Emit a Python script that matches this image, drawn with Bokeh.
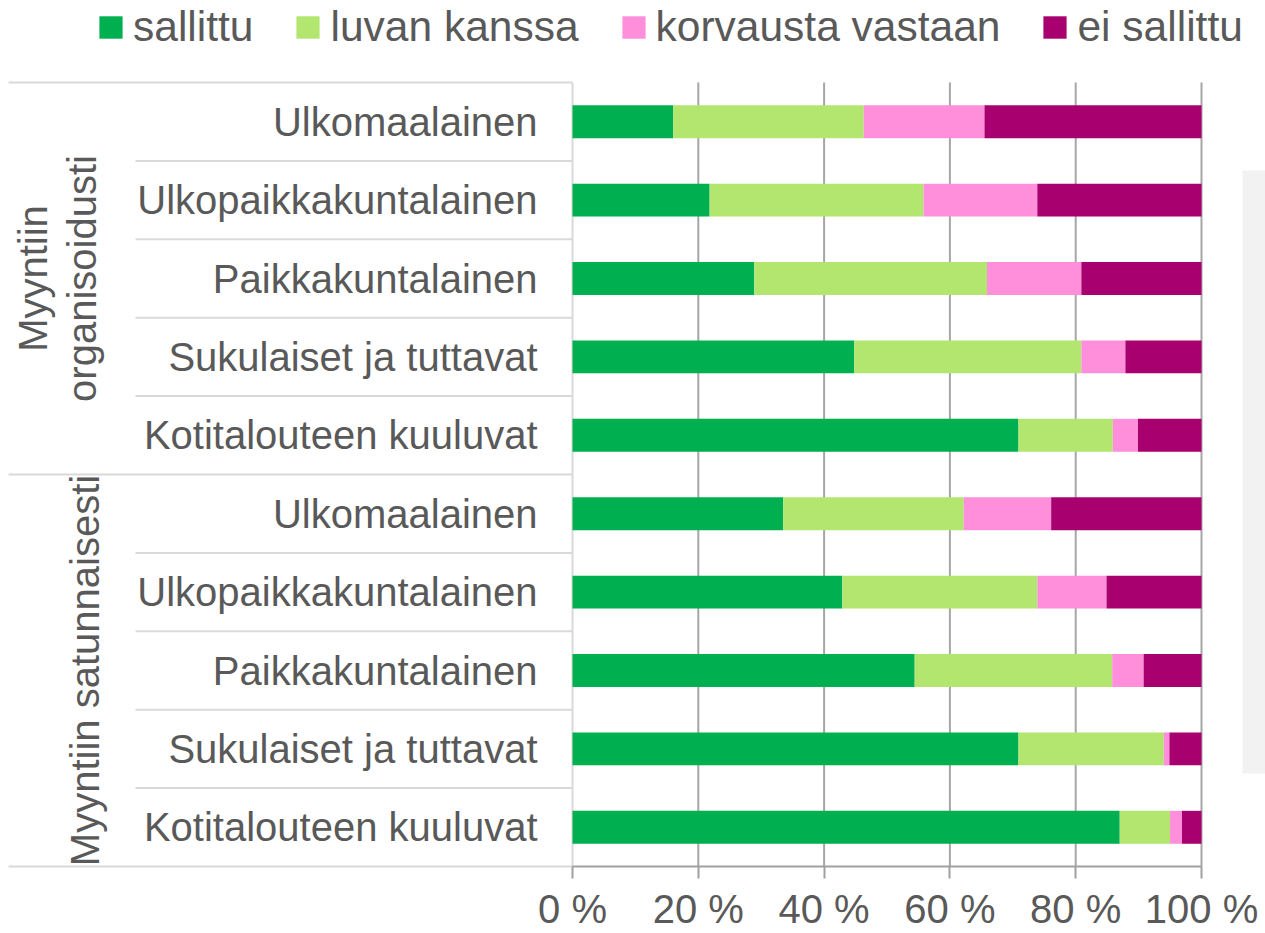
import math
from bokeh.plotting import figure
from bokeh.models import (Range1d, LinearAxis, FixedTicker, Legend, LegendItem,
                          BoxAnnotation, ColumnDataSource)
from bokeh.core.properties import value
from bokeh.embed import file_html
from bokeh.resources import INLINE

# ---------------- data ----------------
groups = ["Myyntiin\norganisoidusti", "Myyntiin satunnaisesti"]
categories = ["Ulkomaalainen", "Ulkopaikkakuntalainen", "Paikkakuntalainen",
              "Sukulaiset ja tuttavat", "Kotitalouteen kuuluvat"]
series = ["sallittu", "luvan kanssa", "korvausta vastaan", "ei sallittu"]

sallittu = [16.0, 21.8, 28.9, 44.8, 70.9, 33.5, 42.9, 54.4, 70.9, 87.0]
luvan_kanssa = [30.3, 34.0, 37.0, 36.1, 15.0, 28.7, 31.0, 31.4, 23.1, 8.0]
korvausta_vastaan = [19.2, 18.1, 15.0, 7.0, 4.0, 13.9, 11.0, 5.0, 0.9, 1.9]
ei_sallittu = [34.5, 26.1, 19.1, 12.1, 10.1, 23.9, 15.1, 9.2, 5.1, 3.1]

tick_values = [0, 20, 40, 60, 80, 100]
tick_labels = ["0 %", "20 %", "40 %", "60 %", "80 %", "100 %"]

colors = ["#00B050", "#B2E66E", "#FF8FDA", "#A8006E"]
TEXT = "#595959"
FONT = "Liberation Sans"

# ---------------- layout ----------------
W, H = 1265, 933
PX_PER_PCT = 6.29
PX_PER_ROW = 78.4
X0 = 572      # canvas x of 0 %
Y_TOP = 82    # canvas y of top row boundary
Y_BOT = 866   # canvas y of bottom row boundary
x_start = -X0 / PX_PER_PCT
x_end = (W - X0) / PX_PER_PCT
n_rows = len(categories) * len(groups)
y_end = n_rows + Y_TOP / PX_PER_ROW
y_start = -(H - Y_BOT) / PX_PER_ROW

labels = categories * len(groups)
ys = [n_rows - 0.5 - i for i in range(n_rows)]

src = ColumnDataSource(dict(y=ys, label=labels, s0=sallittu, s1=luvan_kanssa,
                            s2=korvausta_vastaan, s3=ei_sallittu))

p = figure(width=W, height=H, output_backend="svg", toolbar_location=None,
           x_range=Range1d(x_start, x_end), y_range=Range1d(y_start, y_end),
           x_axis_location=None, y_axis_location=None,
           min_border_left=0, min_border_right=0, min_border_top=0, min_border_bottom=0)
p.outline_line_color = None
p.grid.visible = False
p.background_fill_color = "white"

# right-hand gray panel
p.add_layout(BoxAnnotation(left=(1242 - X0) / PX_PER_PCT, right=None,
                           bottom=n_rows - (773 - Y_TOP) / PX_PER_ROW,
                           top=n_rows - (170 - Y_TOP) / PX_PER_ROW,
                           fill_color="#F2F2F2", fill_alpha=1.0, line_color=None,
                           level="underlay"))

# vertical grid lines
grid_x = tick_values[1:]
p.segment(x0=grid_x, y0=[0] * len(grid_x), x1=grid_x, y1=[n_rows] * len(grid_x),
          line_color="#A6A6A6", line_width=2)
p.segment(x0=[0], y0=[0], x1=[0], y1=[n_rows], line_color="#D9D9D9", line_width=2)

# separators on the left
per_group = len(categories)
cat_sep = [n_rows - i for i in range(n_rows + 1) if i % per_group != 0]
grp_sep = [n_rows - i for i in range(n_rows + 1) if i % per_group == 0]
cat_x0 = (135 - X0) / PX_PER_PCT
grp_x0 = (8 - X0) / PX_PER_PCT
p.segment(x0=[cat_x0] * len(cat_sep), y0=cat_sep, x1=[0] * len(cat_sep), y1=cat_sep,
          line_color="#D9D9D9", line_width=2)
p.segment(x0=[grp_x0] * len(grp_sep), y0=grp_sep, x1=[0] * len(grp_sep), y1=grp_sep,
          line_color="#D9D9D9", line_width=2)

# bars
rs = p.hbar_stack(["s0", "s1", "s2", "s3"], y="y", height=0.42, color=colors,
                  source=src, line_color=None)

# category labels
p.text(x="x", y="y", text="label",
       source=ColumnDataSource(dict(x=[(537 - X0) / PX_PER_PCT] * n_rows, y=ys, label=labels)),
       text_align="right", text_baseline="middle", text_font=value(FONT),
       text_font_size="40px", text_color=TEXT)

# group labels
gy = [n_rows - per_group * g - per_group / 2 for g in range(len(groups))]
gx = [(57 - X0) / PX_PER_PCT, (84 - X0) / PX_PER_PCT]
p.text(x=gx, y=gy, text=groups, angle=math.pi / 2, text_align="center",
       text_baseline="middle", text_font=value(FONT), text_font_size="40px",
       text_color=TEXT, text_line_height=1.1)

# x axis
xaxis = LinearAxis(fixed_location=0, bounds=(0, 100),
                   ticker=FixedTicker(ticks=tick_values),
                   major_label_overrides={v: l for v, l in zip(tick_values, tick_labels)})
xaxis.axis_line_color = "#A0A0A0"
xaxis.axis_line_width = 2
xaxis.major_tick_line_color = "#A0A0A0"
xaxis.major_tick_line_width = 2
xaxis.major_tick_in = 0
xaxis.major_tick_out = 12
xaxis.minor_tick_line_color = None
xaxis.major_label_standoff = 8
xaxis.major_label_text_font = FONT
xaxis.major_label_text_font_size = "40px"
xaxis.major_label_text_color = TEXT
p.add_layout(xaxis, "below")

# legend
legend = Legend(items=[LegendItem(label=s, renderers=[r]) for s, r in zip(series, rs)],
                orientation="horizontal", location=(96, H - 51),
                glyph_width=29, glyph_height=28, label_standoff=8, spacing=40,
                padding=0, margin=0, label_text_font=FONT, label_text_font_size="42.5px",
                label_text_color=TEXT, background_fill_alpha=0, border_line_color=None)
p.add_layout(legend)

open("out.html", "w").write(file_html(p, INLINE))
